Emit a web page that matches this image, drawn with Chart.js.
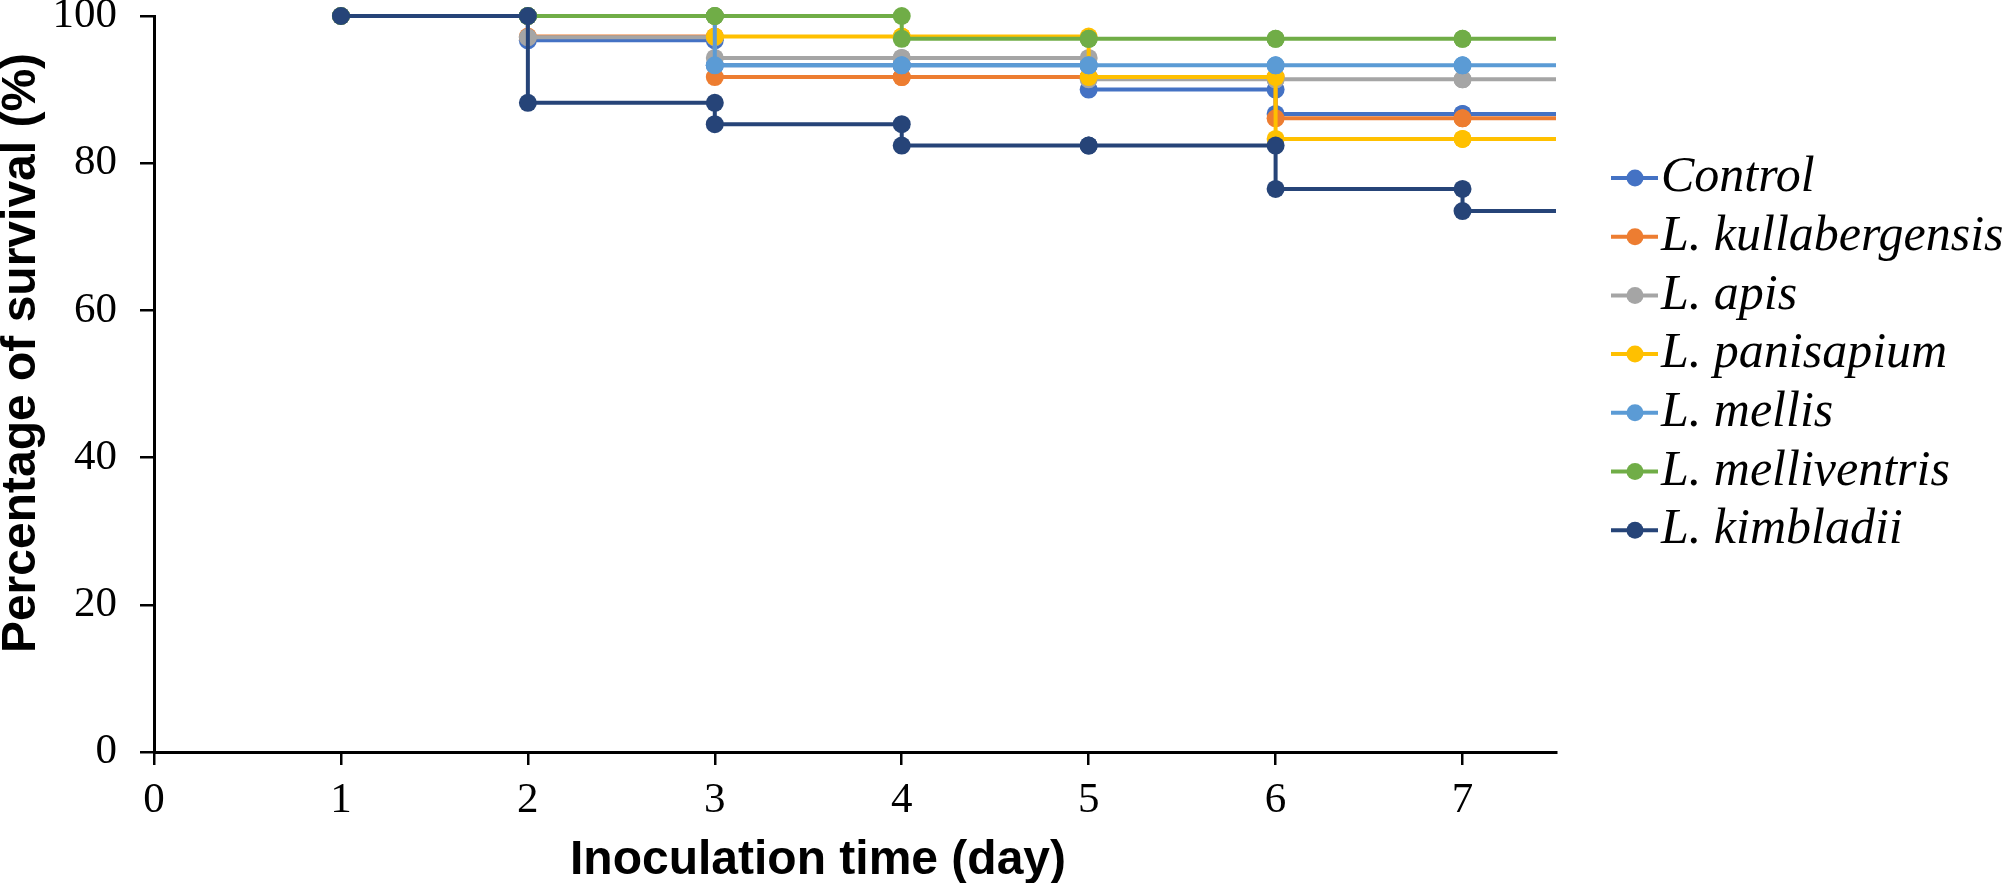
<!DOCTYPE html>
<html>
<head>
<meta charset="utf-8">
<script src="https://cdn.jsdelivr.net/npm/chart.js@4"></script>
<style>
    body { margin: 0; background: #fff; }
    canvas { display: block; }
</style>
</head>
<body>
<canvas id="myChart" width="2008" height="883"></canvas>
<script>
const days = [1, 2, 3, 4, 5, 6, 7];
const xMax = 7.5;
const xTicks = [0, 1, 2, 3, 4, 5, 6, 7];
const yTicks = [0, 20, 40, 60, 80, 100];

const labels = ['Control', 'L. kullabergensis', 'L. apis', 'L. panisapium', 'L. mellis', 'L. melliventris', 'L. kimbladii'];
const control = [100, 96.7, 93.3, 93.3, 90.0, 86.7, 86.7];
const kullabergensis = [100, 97.2, 91.7, 91.7, 91.7, 86.1, 86.1];
const apis = [100, 97.1, 94.3, 94.3, 91.4, 91.4, 91.4];
const panisapium = [100, 100, 97.2, 97.2, 91.7, 83.3, 83.3];
const mellis = [100, 100, 93.3, 93.3, 93.3, 93.3, 93.3];
const melliventris = [100, 100, 100, 96.9, 96.9, 96.9, 96.9];
const kimbladii = [100, 88.2, 85.3, 82.4, 82.4, 76.5, 73.5];

const colors = ['#4472C4', '#ED7D31', '#A5A5A5', '#FFC000', '#5B9BD5', '#70AD47', '#264478'];
const series = [control, kullabergensis, apis, panisapium, mellis, melliventris, kimbladii];

const xTitle = 'Inoculation time (day)';
const yTitle = 'Percentage of survival (%)';

// Kaplan-Meier style: a point before and after each drop, then run out to the axis end
function stepPoints(values) {
    const pts = [{ x: days[0], y: values[0] }];
    for (let i = 1; i < days.length; i++) {
        pts.push({ x: days[i], y: values[i - 1] });
        pts.push({ x: days[i], y: values[i] });
    }
    pts.push({ x: xMax, y: values[values.length - 1] });
    return pts;
}

const sideLegend = {
    id: 'sideLegend',
    afterDraw(chart) {
        const ctx = chart.ctx;
        chart.data.datasets.forEach((ds, i) => {
            const y = 178 + i * 58.7;
            ctx.save();
            ctx.strokeStyle = ds.borderColor;
            ctx.lineWidth = 4;
            ctx.beginPath();
            ctx.moveTo(1611, y);
            ctx.lineTo(1658, y);
            ctx.stroke();
            ctx.fillStyle = ds.borderColor;
            ctx.beginPath();
            ctx.arc(1635, y, 8.5, 0, Math.PI * 2);
            ctx.fill();
            ctx.fillStyle = '#000';
            ctx.font = 'italic 50px "Liberation Serif", "Times New Roman", serif';
            ctx.textBaseline = 'middle';
            ctx.fillText(ds.label, 1661, y);
            ctx.restore();
        });
    }
};

// axis titles sit a little off-centre in the original, so place them by hand
const axisTitles = {
    id: 'axisTitles',
    afterDraw(chart) {
        const ctx = chart.ctx;
        ctx.save();
        ctx.fillStyle = '#000';
        ctx.font = 'bold 48px "Liberation Sans", Arial, sans-serif';
        ctx.textAlign = 'center';
        ctx.textBaseline = 'alphabetic';
        ctx.fillText(xTitle, 818, 874);
        ctx.translate(35, 353);
        ctx.rotate(-Math.PI / 2);
        ctx.fillText(yTitle, 0, 0);
        ctx.restore();
    }
};

const tickFont = { family: '"Liberation Serif", "Times New Roman", serif', size: 43 };

const ctx = document.getElementById('myChart').getContext('2d');
const chart = new Chart(ctx, {
    type: 'line',
    data: {
        datasets: series.map((values, i) => ({
            label: labels[i],
            data: stepPoints(values),
            borderColor: colors[i],
            backgroundColor: colors[i],
            borderWidth: 4,
            pointRadius: (c) => c.dataIndex === days.length * 2 - 1 ? 0 : 9,
            pointBorderWidth: 0,
            pointHoverRadius: 9,
            fill: false,
            clip: false,
            order: series.length - i
        }))
    },
    options: {
        responsive: false,
        animation: false,
        layout: { padding: { top: 16, right: 452, left: 0, bottom: 0 } },
        plugins: {
            legend: { display: false },
            tooltip: { enabled: false }
        },
        scales: {
            x: {
                type: 'linear',
                min: 0,
                max: xMax,
                afterBuildTicks: (scale) => { scale.ticks = xTicks.map(v => ({ value: v })); },
                afterFit: (scale) => { scale.height = 131; scale.paddingLeft = 0; scale.paddingRight = 0; },
                border: { color: '#000', width: 3 },
                grid: { drawOnChartArea: false, drawTicks: true, tickLength: 13, color: '#000', lineWidth: 2.5 },
                ticks: { color: '#000', font: tickFont, padding: 10, maxRotation: 0 },
                title: { display: false }
            },
            y: {
                min: 0,
                max: 100,
                afterBuildTicks: (scale) => { scale.ticks = yTicks.map(v => ({ value: v })); },
                afterFit: (scale) => { scale.width = 154; scale.paddingTop = 0; scale.paddingBottom = 0; },
                border: { color: '#000', width: 3 },
                grid: { drawOnChartArea: false, drawTicks: true, tickLength: 14, color: '#000', lineWidth: 2.5 },
                ticks: { color: '#000', font: tickFont, padding: 23 },
                title: { display: false }
            }
        }
    },
    plugins: [sideLegend, axisTitles]
});
</script>
</body>
</html>
